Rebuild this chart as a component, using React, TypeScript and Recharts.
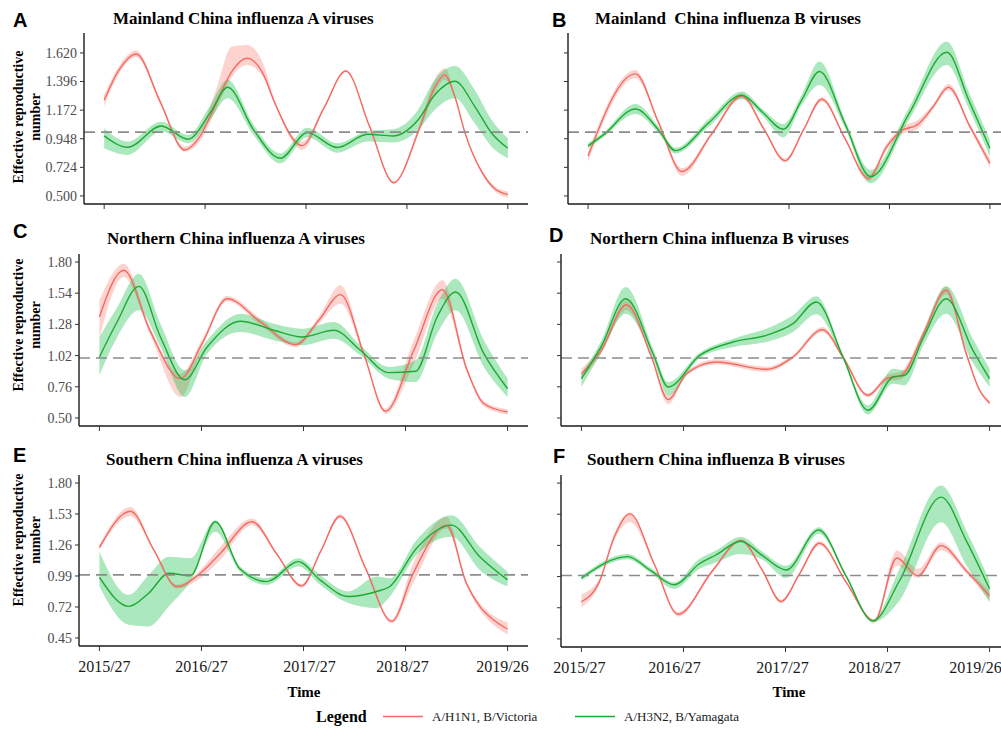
/**
 * Effective reproductive number of influenza lineages, 2015/27 - 2019/26
 * Six small panels (Mainland / Northern / Southern China, type A and type B),
 * each with a smoothed Rt curve and its confidence ribbon per lineage.
 */
import React from 'react';
import { ComposedChart, Line, Area, XAxis, YAxis, ReferenceLine } from 'recharts';

// ---------------------------------------------------------------------------
// Axis values
// ---------------------------------------------------------------------------
const tickWeeks = [0, 52, 104, 156, 208];
const tickLabels = ['2015/27', '2016/27', '2017/27', '2018/27', '2019/26'];

const mainlandTicks = [0.5, 0.724, 0.948, 1.172, 1.396, 1.62];
const northernTicks = [0.5, 0.76, 1.02, 1.28, 1.54, 1.8];
const southernTicks = [0.45, 0.72, 0.99, 1.26, 1.53, 1.8];

// ---------------------------------------------------------------------------
// Rt series (week index since 2015/27, estimate, lower and upper bound)
// ---------------------------------------------------------------------------
const mainlandAH1N1Weeks = [0, 7.8, 16.4, 28.9, 41.5, 49.3, 57.6, 65.7, 73.5, 82.1, 87.7, 102, 113.2, 124.5, 136.8, 149.2, 162.4, 170.3, 175.5, 180.7, 185.9, 194.5, 201, 208];
const mainlandAH1N1Rt = [1.252, 1.49, 1.612, 1.236, 0.86, 0.965, 1.221, 1.473, 1.578, 1.45, 1.236, 0.894, 1.187, 1.479, 1.043, 0.604, 1.027, 1.35, 1.448, 1.278, 0.996, 0.69, 0.56, 0.51];
const mainlandAH1N1Lo = [1.2, 1.46, 1.586, 1.215, 0.847, 0.926, 1.174, 1.43, 1.526, 1.425, 1.22, 0.86, 1.174, 1.469, 1.033, 0.594, 0.996, 1.3, 1.409, 1.262, 0.983, 0.675, 0.54, 0.485];
const mainlandAH1N1Hi = [1.291, 1.52, 1.638, 1.257, 0.886, 1.004, 1.33, 1.67, 1.683, 1.53, 1.26, 0.926, 1.2, 1.489, 1.053, 0.614, 1.058, 1.41, 1.5, 1.294, 1.009, 0.705, 0.58, 0.535];

const mainlandAH3N2Weeks = [0, 12.1, 29.4, 43.2, 54.5, 63.6, 76.9, 90.8, 104.6, 120.2, 135.7, 148.7, 161.7, 170.3, 180.7, 191, 199.7, 208];
const mainlandAH3N2Rt = [0.97, 0.881, 1.048, 0.944, 1.148, 1.351, 1.02, 0.795, 0.996, 0.879, 0.983, 0.97, 1.095, 1.291, 1.398, 1.2, 0.991, 0.873];
const mainlandAH3N2Lo = [0.873, 0.821, 1.004, 0.913, 1.095, 1.265, 0.98, 0.756, 0.96, 0.839, 0.926, 0.918, 1.017, 1.174, 1.265, 1.069, 0.886, 0.795];
const mainlandAH3N2Hi = [1.03, 0.926, 1.082, 0.978, 1.205, 1.409, 1.06, 0.834, 1.035, 0.913, 1.009, 1.022, 1.174, 1.409, 1.518, 1.33, 1.095, 0.952];

const mainlandBVictoriaWeeks = [0, 24.5, 36.5, 48.6, 64.1, 79.6, 90.8, 102, 111.5, 121, 133, 145.1, 154.6, 161.5, 171, 178.7, 186.5, 197.7, 208];
const mainlandBVictoriaRt = [0.813, 1.456, 1.074, 0.691, 0.988, 1.283, 1.03, 0.777, 1.017, 1.257, 0.949, 0.638, 0.886, 1.004, 1.064, 1.2, 1.351, 1.043, 0.756];
const mainlandBVictoriaLo = [0.769, 1.422, 1.058, 0.657, 0.972, 1.262, 1.017, 0.761, 1.004, 1.239, 0.936, 0.614, 0.86, 0.973, 1.03, 1.179, 1.325, 1.022, 0.719];
const mainlandBVictoriaHi = [0.847, 1.487, 1.09, 0.717, 1.004, 1.304, 1.043, 0.793, 1.03, 1.275, 0.962, 0.662, 0.912, 1.035, 1.098, 1.221, 1.377, 1.064, 0.793];

const mainlandBYamagataWeeks = [0, 8.1, 24.5, 36.5, 45.2, 62.4, 79.6, 90.3, 101.1, 110.4, 119.8, 133, 146.3, 166, 185.7, 197, 208];
const mainlandBYamagataRt = [0.892, 0.98, 1.181, 1.017, 0.855, 1.072, 1.289, 1.155, 1.022, 1.247, 1.474, 1.064, 0.651, 1.14, 1.625, 1.252, 0.873];
const mainlandBYamagataLo = [0.871, 0.962, 1.142, 0.991, 0.832, 1.041, 1.26, 1.129, 0.96, 1.208, 1.369, 1.033, 0.599, 1.093, 1.526, 1.187, 0.808];
const mainlandBYamagataHi = [0.913, 0.998, 1.22, 1.043, 0.878, 1.103, 1.318, 1.181, 1.064, 1.286, 1.552, 1.095, 0.704, 1.187, 1.709, 1.317, 0.938];

const northernAH1N1Weeks = [0, 12.4, 26, 41.3, 52.3, 65.1, 82.1, 99.9, 111.8, 122.9, 134.7, 145.8, 160.2, 174.7, 187.4, 195.9, 208];
const northernAH1N1Rt = [1.342, 1.731, 1.22, 0.828, 1.119, 1.494, 1.3, 1.111, 1.314, 1.528, 1.036, 0.556, 1.064, 1.569, 0.897, 0.619, 0.55];
const northernAH1N1Lo = [1.161, 1.675, 1.19, 0.675, 1.086, 1.472, 1.272, 1.089, 1.286, 1.453, 1.014, 0.534, 0.953, 1.494, 0.875, 0.597, 0.528];
const northernAH1N1Hi = [1.481, 1.786, 1.25, 0.869, 1.153, 1.516, 1.328, 1.133, 1.342, 1.606, 1.058, 0.578, 1.147, 1.647, 0.919, 0.641, 0.572];

const northernAH3N2Weeks = [0, 9, 20.1, 31.1, 43.5, 54.9, 71.9, 88.9, 103.3, 119.5, 133, 147.5, 161.1, 172.1, 181.5, 195.9, 208];
const northernAH3N2Rt = [1.008, 1.3, 1.597, 1.175, 0.819, 1.092, 1.306, 1.231, 1.175, 1.231, 1.064, 0.878, 0.889, 1.342, 1.55, 1.036, 0.744];
const northernAH3N2Lo = [0.856, 1.17, 1.397, 1.092, 0.675, 1.036, 1.217, 1.147, 1.106, 1.161, 1.022, 0.828, 0.8, 1.203, 1.397, 0.925, 0.675];
const northernAH3N2Hi = [1.175, 1.42, 1.703, 1.286, 0.897, 1.148, 1.369, 1.286, 1.244, 1.3, 1.106, 0.925, 0.981, 1.453, 1.661, 1.147, 0.828];

const northernBVictoriaWeeks = [0, 10, 22.9, 35.7, 44.2, 53.5, 68.8, 94.2, 107.8, 122.8, 133.3, 146, 155.4, 163, 174.4, 185.9, 196.1, 202.9, 208];
const northernBVictoriaRt = [0.869, 1.06, 1.444, 1.008, 0.653, 0.869, 0.967, 0.906, 1.008, 1.236, 1.008, 0.689, 0.828, 0.856, 1.203, 1.564, 1.036, 0.731, 0.625];
const northernBVictoriaLo = [0.827, 1.03, 1.397, 0.991, 0.614, 0.852, 0.945, 0.884, 0.991, 1.214, 0.991, 0.672, 0.8, 0.822, 1.17, 1.531, 1.014, 0.714, 0.608];
const northernBVictoriaHi = [0.911, 1.09, 1.481, 1.025, 0.689, 0.886, 0.989, 0.928, 1.025, 1.258, 1.025, 0.706, 0.856, 0.89, 1.236, 1.597, 1.058, 0.748, 0.642];

const northernBYamagataWeeks = [0, 10, 22.6, 36.5, 44.2, 60.3, 77.3, 94.2, 107.8, 119.7, 133.3, 146, 158.8, 164.7, 174.4, 185.9, 199.5, 208];
const northernBYamagataRt = [0.828, 1.092, 1.494, 1.036, 0.758, 1.022, 1.133, 1.189, 1.286, 1.467, 1.008, 0.564, 0.842, 0.856, 1.175, 1.494, 1.064, 0.828];
const northernBYamagataLo = [0.758, 1.04, 1.369, 0.994, 0.689, 1.0, 1.092, 1.133, 1.217, 1.364, 0.986, 0.531, 0.786, 0.772, 1.11, 1.369, 0.96, 0.758];
const northernBYamagataHi = [0.869, 1.14, 1.592, 1.078, 0.8, 1.044, 1.161, 1.244, 1.356, 1.514, 1.03, 0.606, 0.911, 0.897, 1.23, 1.597, 1.16, 0.911];

const southernAH1N1Weeks = [0, 15.8, 27.5, 39.5, 51.4, 61.6, 77.7, 90.4, 103.1, 112.8, 122.6, 135.7, 148.9, 159.9, 176.9, 187, 193.8, 200.7, 208];
const southernAH1N1Rt = [1.239, 1.554, 1.225, 0.898, 1.014, 1.187, 1.462, 1.181, 0.904, 1.207, 1.511, 1.054, 0.595, 1.014, 1.433, 0.927, 0.725, 0.609, 0.528];
const southernAH1N1Lo = [1.216, 1.511, 1.211, 0.881, 0.97, 1.129, 1.433, 1.167, 0.887, 1.193, 1.491, 1.04, 0.578, 0.927, 1.404, 0.904, 0.696, 0.565, 0.479];
const southernAH1N1Hi = [1.259, 1.592, 1.239, 0.915, 1.043, 1.245, 1.491, 1.195, 0.921, 1.221, 1.531, 1.068, 0.612, 1.1, 1.505, 0.95, 0.754, 0.645, 0.586];

const southernAH3N2Weeks = [0, 14.9, 25.1, 35.3, 46.3, 59, 71.7, 85.3, 101.4, 112.4, 126.8, 141.3, 148, 161.6, 179.4, 193.8, 208];
const southernAH3N2Rt = [0.979, 0.725, 0.84, 1.014, 0.991, 1.462, 1.05, 0.941, 1.115, 0.956, 0.811, 0.855, 0.898, 1.231, 1.433, 1.158, 0.956];
const southernAH3N2Lo = [0.898, 0.566, 0.551, 0.725, 0.941, 1.375, 1.027, 0.912, 1.072, 0.913, 0.754, 0.71, 0.811, 1.173, 1.332, 1.043, 0.898];
const southernAH3N2Hi = [1.202, 0.826, 0.999, 1.158, 1.144, 1.476, 1.073, 0.97, 1.144, 0.999, 0.855, 0.985, 0.97, 1.303, 1.52, 1.245, 1.028];

const southernBVictoriaWeeks = [0, 9, 16.7, 24.7, 37.1, 49.3, 66.8, 81.3, 92.3, 101.7, 111.1, 121.3, 134.9, 149.3, 160.7, 171.4, 183.3, 196.1, 208];
const southernBVictoriaRt = [0.772, 0.94, 1.331, 1.533, 1.099, 0.664, 1.041, 1.302, 1.041, 0.774, 1.012, 1.279, 0.942, 0.606, 1.151, 0.997, 1.258, 1.041, 0.824];
const southernBVictoriaLo = [0.722, 0.915, 1.3, 1.461, 1.085, 0.644, 1.024, 1.288, 1.027, 0.757, 0.998, 1.259, 0.928, 0.592, 1.084, 0.977, 1.215, 1.018, 0.78];
const southernBVictoriaHi = [0.838, 0.965, 1.36, 1.548, 1.113, 0.684, 1.058, 1.316, 1.055, 0.791, 1.026, 1.299, 0.956, 0.62, 1.215, 1.055, 1.287, 1.064, 0.867];

const southernBYamagataWeeks = [0, 23.5, 35.4, 47.3, 60, 68.5, 81.3, 92.3, 104.3, 120.9, 134.7, 148.5, 162.1, 183.3, 196.1, 208];
const southernBYamagataRt = [0.977, 1.163, 1.041, 0.919, 1.099, 1.177, 1.296, 1.171, 1.047, 1.394, 1.0, 0.606, 0.954, 1.678, 1.302, 0.882];
const southernBYamagataLo = [0.957, 1.14, 1.018, 0.882, 1.055, 1.113, 1.186, 1.136, 0.977, 1.36, 0.986, 0.592, 0.78, 1.461, 1.09, 0.766];
const southernBYamagataHi = [0.997, 1.186, 1.064, 0.94, 1.142, 1.215, 1.336, 1.206, 1.084, 1.418, 1.014, 0.62, 1.055, 1.78, 1.389, 0.954];

// ---------------------------------------------------------------------------
// Styling
// ---------------------------------------------------------------------------
const SERIF = '"Liberation Serif", "Times New Roman", serif';
const SANS = '"Liberation Sans", Arial, sans-serif';

const COLORS = {
  red: '#F46A62',
  redBand: '#F8766D',
  green: '#1EAA32',
  greenBand: '#00BA38',
  axis: '#1a1a1a',
  tickText: '#4d4d4d',
  refLine: '#8c8c8c'
};

const LEGEND_ITEMS = [
  { name: 'A/H1N1, B/Victoria', color: COLORS.red },
  { name: 'A/H3N2, B/Yamagata', color: COLORS.green }
];

const WEEK_DOMAIN: [number, number] = [-10.4, 218.4];
const Y_AXIS_WIDTH = 70;
const X_AXIS_HEIGHT = 40;
const CHART_MARGIN = { top: 4, right: 40, bottom: 0, left: 0 };

type Row = { week: number; rt: number; band: [number, number] };

const toRows = (weeks: number[], rt: number[], lo: number[], hi: number[]): Row[] =>
  weeks.map((week, i) => ({ week, rt: rt[i], band: [lo[i], hi[i]] }));

const pair = (red: Row[], green: Row[]) => [
  { rows: red, line: COLORS.red, band: COLORS.redBand, bandOpacity: 0.32 },
  { rows: green, line: COLORS.green, band: COLORS.greenBand, bandOpacity: 0.33 }
];

/**
 * Panel layout: plot rectangle in page pixels, y scale, and the small
 * horizontal nudges of the time labels in the bottom row
 */
const PANELS = [
  {
    id: 'A', title: 'Mainland China influenza A viruses', titleX: 113, titleY: 24, letterX: 13, letterY: 27,
    left: 84, top: 33, width: 444, height: 171, domain: [0.437, 1.776], ticks: mainlandTicks, digits: 3,
    yLabels: true, xLabels: false, labelShift: [0, 0, 0, 0, 0],
    series: pair(
      toRows(mainlandAH1N1Weeks, mainlandAH1N1Rt, mainlandAH1N1Lo, mainlandAH1N1Hi),
      toRows(mainlandAH3N2Weeks, mainlandAH3N2Rt, mainlandAH3N2Lo, mainlandAH3N2Hi)
    )
  },
  {
    id: 'B', title: 'Mainland  China influenza B viruses', titleX: 595, titleY: 24, letterX: 552, letterY: 27,
    left: 568, top: 33, width: 442, height: 171, domain: [0.437, 1.776], ticks: mainlandTicks, digits: 3,
    yLabels: false, xLabels: false, labelShift: [0, 0, 0, 0, 0],
    series: pair(
      toRows(mainlandBVictoriaWeeks, mainlandBVictoriaRt, mainlandBVictoriaLo, mainlandBVictoriaHi),
      toRows(mainlandBYamagataWeeks, mainlandBYamagataRt, mainlandBYamagataLo, mainlandBYamagataHi)
    )
  },
  {
    id: 'C', title: 'Northern China influenza A viruses', titleX: 107, titleY: 244, letterX: 13, letterY: 238,
    left: 79, top: 254, width: 449, height: 172, domain: [0.4333, 1.8667], ticks: northernTicks, digits: 2,
    yLabels: true, xLabels: false, labelShift: [0, 0, 0, 0, 0],
    series: pair(
      toRows(northernAH1N1Weeks, northernAH1N1Rt, northernAH1N1Lo, northernAH1N1Hi),
      toRows(northernAH3N2Weeks, northernAH3N2Rt, northernAH3N2Lo, northernAH3N2Hi)
    )
  },
  {
    id: 'D', title: 'Northern China influenza B viruses', titleX: 590, titleY: 244, letterX: 549, letterY: 242,
    left: 561, top: 254, width: 449, height: 172, domain: [0.4333, 1.8667], ticks: northernTicks, digits: 2,
    yLabels: false, xLabels: false, labelShift: [0, 0, 0, 0, 0],
    series: pair(
      toRows(northernBVictoriaWeeks, northernBVictoriaRt, northernBVictoriaLo, northernBVictoriaHi),
      toRows(northernBYamagataWeeks, northernBYamagataRt, northernBYamagataLo, northernBYamagataHi)
    )
  },
  {
    id: 'E', title: 'Southern China influenza A viruses', titleX: 106, titleY: 465, letterX: 13, letterY: 462,
    left: 79, top: 475, width: 449, height: 171, domain: [0.38, 1.87], ticks: southernTicks, digits: 2,
    yLabels: true, xLabels: true, labelShift: [5, 0, 6, -3, -5],
    series: pair(
      toRows(southernAH1N1Weeks, southernAH1N1Rt, southernAH1N1Lo, southernAH1N1Hi),
      toRows(southernAH3N2Weeks, southernAH3N2Rt, southernAH3N2Lo, southernAH3N2Hi)
    )
  },
  {
    id: 'F', title: 'Southern China influenza B viruses', titleX: 587, titleY: 465, letterX: 553, letterY: 463,
    left: 561, top: 475, width: 449, height: 172, domain: [0.38, 1.87], ticks: southernTicks, digits: 2,
    yLabels: false, xLabels: true, labelShift: [-2, -9, -3, -13, -14],
    series: pair(
      toRows(southernBVictoriaWeeks, southernBVictoriaRt, southernBVictoriaLo, southernBVictoriaHi),
      toRows(southernBYamagataWeeks, southernBYamagataRt, southernBYamagataLo, southernBYamagataHi)
    )
  }
];

type PanelConfig = (typeof PANELS)[number];

/**
 * Time tick label, only drawn on the bottom row of panels
 */
const makeTimeTick = (panel: PanelConfig) => (props: any) => {
  const { x, y, payload } = props;
  const i = tickWeeks.indexOf(payload.value);
  if (!panel.xLabels || i < 0) return <g />;
  return (
    <text
      x={x + panel.labelShift[i]}
      y={y}
      dy="0.71em"
      textAnchor="middle"
      fontFamily={SERIF}
      fontSize={16}
      fill="#1a1a1a"
    >
      {tickLabels[i]}
    </text>
  );
};

const RtPanel: React.FC<{ panel: PanelConfig }> = ({ panel }) => {
  const chartWidth = panel.width + Y_AXIS_WIDTH + CHART_MARGIN.left + CHART_MARGIN.right;
  const chartHeight = panel.height + CHART_MARGIN.top + X_AXIS_HEIGHT + CHART_MARGIN.bottom;

  return (
    <div
      style={{
        position: 'absolute',
        left: panel.left - Y_AXIS_WIDTH - CHART_MARGIN.left,
        top: panel.top - CHART_MARGIN.top
      }}
    >
      <ComposedChart width={chartWidth} height={chartHeight} margin={CHART_MARGIN}>
        <XAxis
          type="number"
          dataKey="week"
          domain={WEEK_DOMAIN}
          ticks={tickWeeks}
          interval={0}
          allowDataOverflow
          height={X_AXIS_HEIGHT}
          tickSize={5}
          tickMargin={10}
          stroke={COLORS.axis}
          axisLine={{ stroke: COLORS.axis, strokeWidth: 1.4 }}
          tickLine={{ stroke: '#333', strokeWidth: 1 }}
          tick={makeTimeTick(panel)}
        />
        <YAxis
          type="number"
          domain={panel.domain}
          ticks={panel.ticks}
          interval={0}
          allowDataOverflow
          width={Y_AXIS_WIDTH}
          tickSize={4}
          tickMargin={3}
          stroke={COLORS.axis}
          axisLine={{ stroke: COLORS.axis, strokeWidth: 1.4 }}
          tickLine={{ stroke: '#333', strokeWidth: 1 }}
          tick={{ fontSize: 14, fill: COLORS.tickText, fontFamily: SERIF }}
          tickFormatter={(v: number) => (panel.yLabels ? v.toFixed(panel.digits) : '')}
        />
        {panel.series.map((s, i) => [
          <Area
            key={`band-${i}`}
            data={s.rows}
            dataKey="band"
            type="monotone"
            stroke="none"
            fill={s.band}
            fillOpacity={s.bandOpacity}
            isAnimationActive={false}
            activeDot={false}
          />,
          <Line
            key={`line-${i}`}
            data={s.rows}
            dataKey="rt"
            type="monotone"
            stroke={s.line}
            strokeWidth={1.4}
            dot={false}
            activeDot={false}
            isAnimationActive={false}
          />
        ])}
        <ReferenceLine y={1} stroke={COLORS.refLine} strokeWidth={1.6} strokeDasharray="11 6" />
      </ComposedChart>
    </div>
  );
};

const App: React.FC = () => {
  const yLabelCenters = [117, 325, 540];
  const timeCenters = [304, 789];

  return (
    <div
      style={{
        position: 'fixed',
        left: 0,
        top: 0,
        width: 1001,
        height: 737,
        overflow: 'hidden',
        background: '#fff'
      }}
    >
      {PANELS.map((p) => (
        <RtPanel key={p.id} panel={p} />
      ))}

      {/* Titles, panel letters, axis titles and legend */}
      <svg
        width={1001}
        height={737}
        style={{ position: 'absolute', left: 0, top: 0, pointerEvents: 'none' }}
      >
        {PANELS.map((p) => (
          <g key={`t-${p.id}`}>
            <text x={p.letterX} y={p.letterY} fontFamily={SANS} fontWeight="bold" fontSize={20} fill="#000">
              {p.id}
            </text>
            <text
              x={p.titleX}
              y={p.titleY}
              fontFamily={SERIF}
              fontWeight="bold"
              fontSize={17}
              fill="#000"
              style={{ whiteSpace: 'pre' }}
            >
              {p.title}
            </text>
          </g>
        ))}

        {yLabelCenters.map((cy) => (
          <g key={`yl-${cy}`} fontFamily={SERIF} fontWeight="bold" fontSize={14} fill="#000" textAnchor="middle">
            <text transform={`translate(23, ${cy}) rotate(-90)`}>Effective reproductive</text>
            <text transform={`translate(40, ${cy}) rotate(-90)`}>number</text>
          </g>
        ))}

        {timeCenters.map((cx) => (
          <text key={`time-${cx}`} x={cx} y={697} textAnchor="middle" fontFamily={SERIF} fontWeight="bold" fontSize={15} fill="#000">
            Time
          </text>
        ))}

        <text x={316} y={722} fontFamily={SERIF} fontWeight="bold" fontSize={16} fill="#000">
          Legend
        </text>
        {LEGEND_ITEMS.map((item, i) => {
          const x0 = 383 + i * 192;
          return (
            <g key={item.name}>
              <line x1={x0} x2={x0 + 40} y1={716.5} y2={716.5} stroke={item.color} strokeWidth={1.5} />
              <text x={x0 + 49} y={721} fontFamily={SERIF} fontSize={13} fill="#1a1a1a">
                {item.name}
              </text>
            </g>
          );
        })}
      </svg>
    </div>
  );
};

export default App;
